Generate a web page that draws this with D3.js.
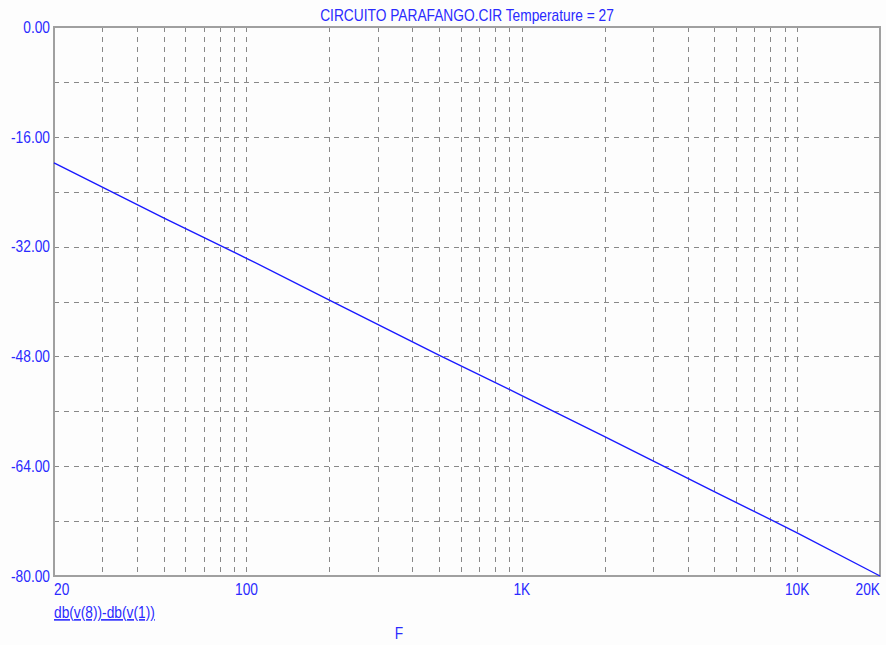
<!DOCTYPE html>
<html><head><meta charset="utf-8">
<script src="https://cdn.jsdelivr.net/npm/d3@7"></script>
<style>
html,body{margin:0;padding:0;background:#fdfdfd;}
svg{display:block;}
text{font-family:Arial,"Liberation Sans",sans-serif;fill:#2a2aff;}
</style></head><body>
<svg id="c" width="886" height="645"></svg>
<script>
const title = "CIRCUITO PARAFANGO.CIR Temperature = 27";
const freqs = [20, 50, 100, 200, 500, 1000, 2000, 5000, 10000, 20000];
const dbValues = [-19.8, -27.8, -33.7, -39.8, -47.8, -53.7, -59.7, -67.7, -73.7, -80.0];
const xTickValues = [20, 100, 1000, 10000, 20000];
const xTickLabels = ["20", "100", "1K", "10K", "20K"];
const xGridValues = [30,40,50,60,70,80,90,100,200,300,400,500,600,700,800,900,1000,2000,3000,4000,5000,6000,7000,8000,9000,10000];
const yTickValues = [0, -16, -32, -48, -64, -80];
const yGridValues = [-8, -16, -24, -32, -40, -48, -56, -64, -72];
const seriesLabel = "db(v(8))-db(v(1))";
const xAxisLabel = "F";

const svg = d3.select("#c");
const L = 54, R = 880, T = 27, B = 576;
const SX = 0.86, FS = 16;
const x = d3.scaleLog().domain([20, 20000]).range([L, R]);
const y = d3.scaleLinear().domain([-80, 0]).range([B, T]);

function label(px, py, txt, anchor, dy) {
  const t = svg.append("text")
    .attr("transform", `translate(${px},${py}) scale(${SX},1)`)
    .attr("text-anchor", anchor || "start")
    .attr("font-size", FS)
    .text(txt);
  if (dy) t.attr("dy", dy);
  return t;
}

// grid
const grid = svg.append("g").attr("stroke", "#888").attr("stroke-width", 1).attr("stroke-dasharray", "5,5");
grid.selectAll("line.v").data(xGridValues).enter().append("line")
  .attr("x1", d => Math.round(x(d)) + 0.5).attr("x2", d => Math.round(x(d)) + 0.5)
  .attr("y1", T).attr("y2", B);
grid.selectAll("line.h").data(yGridValues).enter().append("line")
  .attr("y1", d => Math.round(y(d)) + 0.5).attr("y2", d => Math.round(y(d)) + 0.5)
  .attr("x1", L).attr("x2", R);

// border
svg.append("rect").attr("x", L).attr("y", T).attr("width", R - L).attr("height", B - T)
  .attr("fill", "none").attr("stroke", "#a0a0a0").attr("stroke-width", 2);

// curve
const line = d3.line().x((d, i) => x(freqs[i])).y(d => y(d));
svg.append("path").datum(dbValues).attr("d", line)
  .attr("fill", "none").attr("stroke", "#1a1aff").attr("stroke-width", 1.4);

// y labels
yTickValues.forEach(v => label(50, y(v), v.toFixed(2), "end", "0.36em"));

// x labels
xTickValues.forEach((v, i) => label(x(v), 595, xTickLabels[i],
  i === 0 ? "start" : (i === xTickValues.length - 1 ? "end" : "middle")));

// title
label((L + R) / 2, 21, title, "middle");

// series label
label(L, 618, seriesLabel, "start").attr("text-decoration", "underline");

// x axis label
label(399, 639, xAxisLabel, "middle");
</script>
</body></html>
